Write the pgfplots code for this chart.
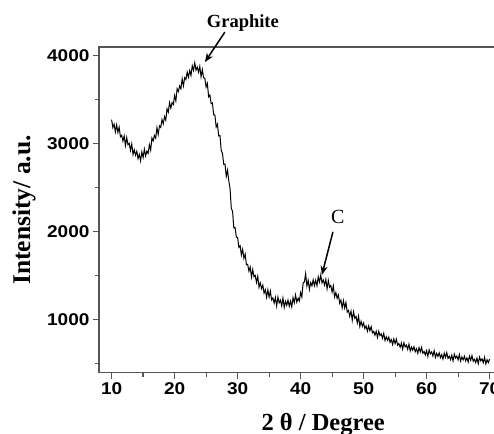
\documentclass[border=0pt]{standalone}
\usepackage{pgfplots}
\pgfplotsset{compat=1.18}
\usepackage{fontspec}
\setmainfont{Liberation Serif}
\newfontfamily\arialfont[FakeStretch=1.12]{Liberation Sans}
\usetikzlibrary{arrows.meta}
\definecolor{axgray}{RGB}{85,85,85}
\begin{document}
\begin{tikzpicture}
\begin{axis}[
  scale only axis, width=403.2pt, height=325.7pt,
  xmin=8, xmax=72, ymin=400, ymax=4100,
  xtick={10,20,...,70}, minor xtick={15,25,...,65},
  ytick={1000,2000,3000,4000}, minor ytick={500,1500,2500,3500},
  xtick pos=bottom, ytick pos=left,
  tick align=outside,
  major tick length=6pt, minor tick length=4pt,
  axis line style={draw=axgray, line width=1.3pt},
  tick style={draw=axgray, line width=1.2pt},
  tick label style={font=\arialfont\bfseries\fontsize{17}{18}\selectfont},
  /pgf/number format/assume math mode=true,
  /pgf/number format/set thousands separator={},
  scaled y ticks=false,
  clip=false,
  xlabel={2 θ / Degree},
  ylabel={Intensity/ a.u.},
  every axis x label/.style={at={(axis description cs:0.556,-0.124)}, anchor=north, inner sep=0pt, font=\bfseries\fontsize{24.5}{25}\selectfont},
  every axis y label/.style={at={(axis description cs:-0.186,0.5)}, anchor=center, rotate=90, inner sep=0pt, font=\bfseries\fontsize{25.5}{26}\selectfont},
]
\addplot[black, line width=1.0pt, no markers] coordinates {
(10.0,3275)(10.2,3184)(10.4,3223)(10.6,3135)(10.8,3215)(11.0,3130)(11.2,3190)(11.4,3080)(11.6,3097)(11.8,3031)
(12.0,3090)(12.2,2980)(12.4,3070)(12.6,2990)(12.8,3005)(13.0,2925)(13.2,2999)(13.4,2878)(13.6,2932)(13.8,2871)
(14.0,2915)(14.2,2832)(14.4,2879)(14.6,2806)(14.8,2908)(15.0,2845)(15.2,2939)(15.4,2863)(15.6,2917)(15.8,2891)
(16.0,2990)(16.2,2928)(16.4,3066)(16.6,3034)(16.8,3097)(17.0,3065)(17.2,3183)(17.4,3106)(17.6,3204)(17.8,3187)
(18.0,3275)(18.2,3228)(18.4,3311)(18.6,3269)(18.8,3397)(19.0,3360)(19.2,3468)(19.4,3406)(19.6,3469)(19.8,3447)
(20.0,3550)(20.2,3488)(20.4,3626)(20.6,3594)(20.8,3657)(21.0,3625)(21.2,3739)(21.4,3658)(21.6,3752)(21.8,3731)
(22.0,3815)(22.2,3758)(22.4,3831)(22.6,3776)(22.8,3888)(23.0,3835)(23.2,3921)(23.4,3837)(23.6,3871)(23.8,3813)
(24.0,3880)(24.2,3762)(24.4,3844)(24.6,3750)(24.8,3745)(25.0,3645)(25.2,3687)(25.4,3534)(25.6,3554)(25.8,3457)
(26.0,3465)(26.2,3330)(26.4,3325)(26.6,3191)(26.8,3223)(27.0,3090)(27.2,3094)(27.4,2928)(27.6,2889)(27.8,2767)
(28.0,2770)(28.2,2630)(28.4,2700)(28.6,2580)(28.8,2495)(29.0,2265)(29.2,2235)(29.4,2045)(29.6,2050)(29.8,1940)
(30.0,1935)(30.2,1824)(30.4,1843)(30.6,1737)(30.8,1801)(31.0,1700)(31.2,1748)(31.4,1626)(31.6,1631)(31.8,1553)
(32.0,1600)(32.2,1486)(32.4,1572)(32.6,1490)(32.8,1505)(33.0,1425)(33.2,1495)(33.4,1370)(33.6,1420)(33.8,1355)
(34.0,1395)(34.2,1304)(34.4,1343)(34.6,1257)(34.8,1341)(35.0,1260)(35.2,1328)(35.4,1226)(35.6,1250)(35.8,1190)
(36.0,1255)(36.2,1157)(36.4,1259)(36.6,1193)(36.8,1224)(37.0,1160)(37.2,1248)(37.4,1141)(37.6,1210)(37.8,1165)
(38.0,1225)(38.2,1154)(38.4,1213)(38.6,1148)(38.8,1254)(39.0,1195)(39.2,1283)(39.4,1201)(39.6,1247)(39.8,1215)
(40.0,1310)(40.2,1260)(40.4,1420)(40.6,1430)(40.8,1525)(41.0,1385)(41.2,1450)(41.4,1346)(41.6,1424)(41.8,1387)
(42.0,1455)(42.2,1388)(42.4,1451)(42.6,1387)(42.8,1491)(43.0,1430)(43.2,1510)(43.4,1420)(43.6,1453)(43.8,1395)
(44.0,1460)(44.2,1354)(44.4,1448)(44.6,1372)(44.8,1391)(45.0,1315)(45.2,1385)(45.4,1260)(45.6,1310)(45.8,1245)
(46.0,1285)(46.2,1190)(46.4,1225)(46.6,1136)(46.8,1218)(47.0,1135)(47.2,1197)(47.4,1089)(47.6,1107)(47.8,1041)
(48.0,1100)(48.2,996)(48.4,1092)(48.6,1018)(48.8,1039)(49.0,965)(49.2,1043)(49.4,926)(49.6,984)(49.8,927)
(50.0,965)(50.2,902)(50.4,930)(50.6,872)(50.8,932)(51.0,876)(51.2,924)(51.4,853)(51.6,870)(51.8,826)
(52.0,871)(52.2,801)(52.4,871)(52.6,822)(52.8,840)(53.0,790)(53.2,846)(53.4,766)(53.6,808)(53.8,769)
(54.0,805)(54.2,745)(54.4,776)(54.6,721)(54.8,784)(55.0,731)(55.2,781)(55.4,712)(55.6,731)(55.8,689)
(56.0,736)(56.2,668)(56.4,740)(56.6,693)(56.8,713)(57.0,665)(57.2,724)(57.4,647)(57.6,692)(57.8,656)
(58.0,695)(58.2,638)(58.4,672)(58.6,620)(58.8,686)(59.0,636)(59.2,688)(59.4,621)(59.6,642)(59.8,602)
(60.0,651)(60.2,585)(60.4,659)(60.6,614)(60.8,636)(61.0,590)(61.2,650)(61.4,574)(61.6,620)(61.8,585)
(62.0,625)(62.2,570)(62.4,605)(62.6,555)(62.8,622)(63.0,574)(63.2,628)(63.4,563)(63.6,586)(63.8,548)
(64.0,599)(64.2,534)(64.4,610)(64.6,566)(64.8,590)(65.0,545)(65.2,606)(65.4,532)(65.6,579)(65.8,546)
(66.0,587)(66.2,533)(66.4,569)(66.6,520)(66.8,588)(67.0,541)(67.2,595)(67.4,530)(67.6,553)(67.8,515)
(68.0,566)(68.2,502)(68.4,577)(68.6,534)(68.8,557)(69.0,513)(69.2,574)(69.4,500)(69.6,547)(69.8,514)
(70.0,555)
};
\node[anchor=base, font=\bfseries\fontsize{18.5}{19}\selectfont] at (axis cs:30.84,4326) {Graphite};
\draw[black, line width=1.5pt, -{Stealth[length=9pt,width=7pt]}] (axis cs:27.98,4269) -- (axis cs:24.81,3928);
\node[anchor=base, font=\fontsize{20}{20}\selectfont] at (axis cs:45.9,2096) {C};
\draw[black, line width=1.5pt, -{Stealth[length=9pt,width=7pt]}] (axis cs:45.13,2000) -- (axis cs:43.38,1511);
\coordinate (bl) at (rel axis cs:0,0);
\end{axis}
\pgfresetboundingbox
\useasboundingbox ([shift={(-99pt,-60.3pt)}]bl) rectangle ([shift={(395pt,372.7pt)}]bl);
\end{tikzpicture}
\end{document}
